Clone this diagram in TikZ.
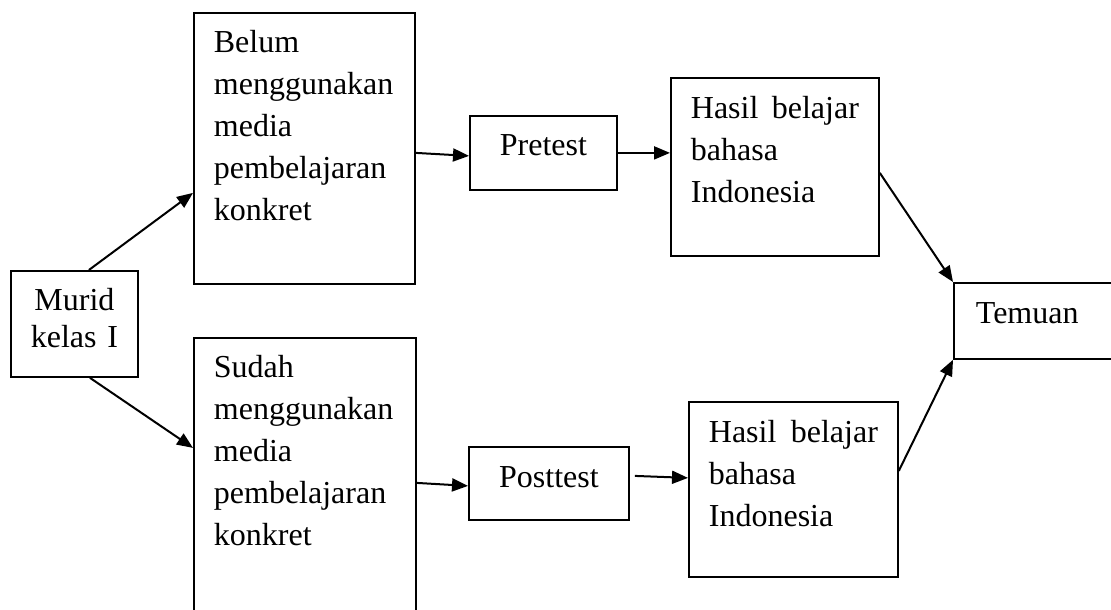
\documentclass[tikz,border=0pt]{standalone}
\usepackage{fontspec}
\setmainfont{Liberation Serif}
\usetikzlibrary{arrows.meta}
\tikzset{
	kotak/.style={
			draw, line width=0.9pt, anchor=north west, inner ysep=0pt,
			font=\fontsize{16}{21}\selectfont
		},
	kotakkiri/.style={
			kotak, align=left, inner xsep=10pt, text height=20pt
		},
	panah/.style={line width=1pt, -{Triangle[length=8pt,width=6.5pt]}}
}

\begin{document}
\begin{tikzpicture}[x=0.5pt,y=-0.5pt]
        \useasboundingbox (0,0) rectangle (1111,609);
        \node[kotak,align=center,inner xsep=0pt,text width=63.5pt,text height=20pt,text depth=33pt,font=\fontsize{16}{18.5}\selectfont] (murid) at (10,270) {Murid\\kelas I};
        \node[kotakkiri,text width=90.5pt,text depth=115.5pt] (belum) at (193,12) {Belum\\menggunakan\\media\\pembelajaran\\konkret};
        \node[kotakkiri,text width=91pt,text depth=119pt] (sudah) at (193,337) {Sudah\\menggunakan\\media\\pembelajaran\\konkret};
        \node[kotak,align=center,inner xsep=0pt,minimum width=73.5pt,text height=20pt,text depth=17pt] (pretest) at (469,115) {Pretest};
        \node[kotak,align=center,inner xsep=0pt,minimum width=80pt,text height=20.5pt,text depth=16pt] (posttest) at (468,446) {Posttest};
        \node[kotakkiri,text width=84pt,text height=20.5pt,text depth=68.5pt] (hasil_pre) at (670,77) {Hasil\hfill belajar\\bahasa\\Indonesia};
        \node[kotakkiri,text width=84.5pt,text height=20.5pt,text depth=67pt] (hasil_post) at (688,401) {Hasil\hfill belajar\\bahasa\\Indonesia};
        \node[kotakkiri,inner xsep=11pt,text width=59.5pt,text height=20.5pt,text depth=17.5pt] (temuan) at (953,282) {Temuan};
        \draw[panah] ([xshift=7.25pt]murid.north) -- ([yshift=-22.25pt]belum.west);
        \draw[panah] ([xshift=7.75pt]murid.south) -- ([yshift=14.5pt]sudah.west);
        \draw[panah] ([yshift=-2.25pt]belum.east) -- ([yshift=-1.5pt]pretest.west);
        \draw[panah] (pretest.east) -- ([yshift=7pt]hasil_pre.west);
        \draw[panah] ([yshift=-3pt]hasil_pre.east) -- (temuan.north west);
        \draw[panah] ([yshift=-3pt]sudah.east) -- ([yshift=-1.25pt]posttest.west);
        \draw[panah] ([xshift=2.5pt,yshift=3.75pt]posttest.east) -- ([yshift=5.75pt]hasil_post.west);
        \draw[panah] ([yshift=9.25pt]hasil_post.east) -- (temuan.south west);
    \end{tikzpicture}
\end{document}
